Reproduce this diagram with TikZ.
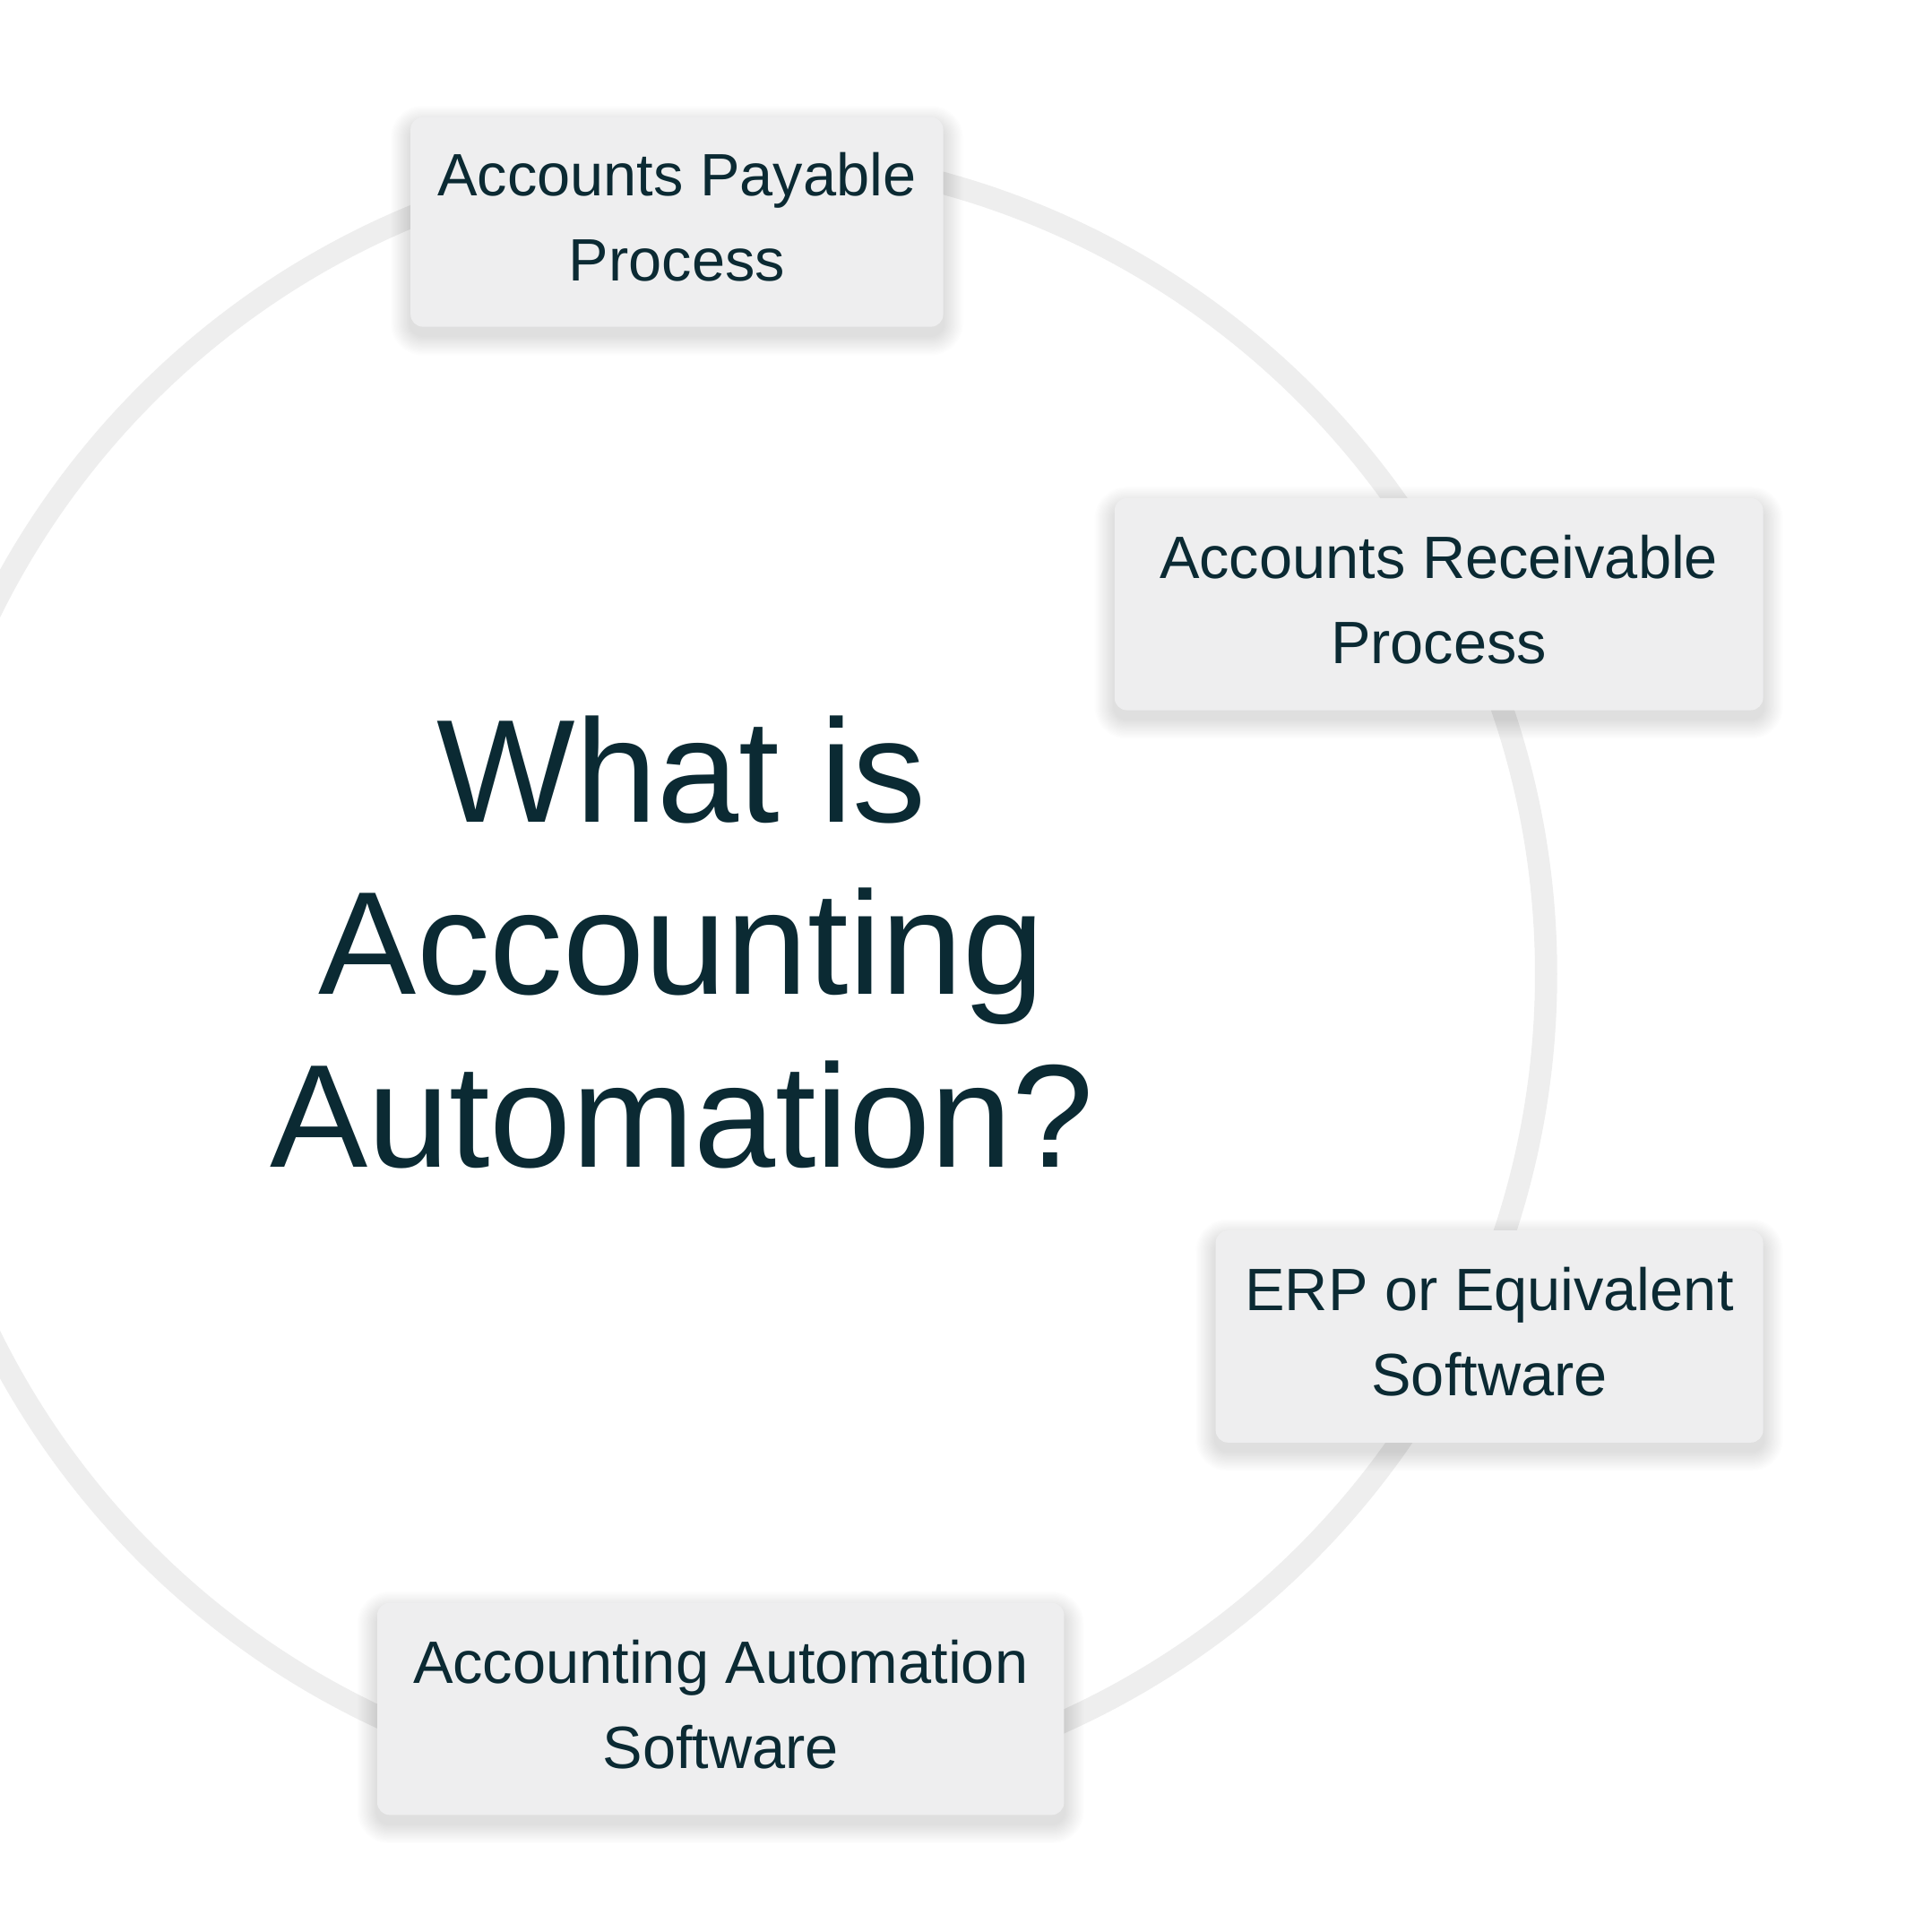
\documentclass[tikz,border=0pt]{standalone}
\usepackage{fontspec}
\setmainfont{Liberation Sans}
\usetikzlibrary{calc}
\definecolor{ink}{HTML}{0B2A33}
\definecolor{boxfill}{HTML}{EEEEEF}
\definecolor{ring}{HTML}{EEEEEE}
\tikzset{
  ringline/.style={draw=ring, line width=18pt},
  card/.style={rectangle, rounded corners=10pt, fill=boxfill, text=ink,
    align=center, inner sep=0pt, text depth=8pt,
    font=\fontsize{48.5}{69}\selectfont},
  shadowlayer/.style={fill=black, opacity=0.009},
  title/.style={text=ink, align=center, inner sep=0pt,
    font=\fontsize{119}{140}\selectfont}
}
\newcommand{\cardshadow}[1]{%
  \foreach \i in {1,...,16}{%
    \fill[shadowlayer, rounded corners={10pt+\i pt}]
      ($(#1.south west)+(-\i,\i+7)$) rectangle ($(#1.north east)+(\i,-\i+7)$);
  }}
\begin{document}
\begin{tikzpicture}[x=1pt,y=-1pt]
\useasboundingbox (0,0) rectangle (1567,1567);
\fill[white] (0,0) rectangle (1567,1567);
\begin{scope}
\clip (0,0) rectangle (1567,1567);
\draw[ringline] (589,790) circle[radius=665];
\end{scope}
\node[title] (t) at (553,764) {What is\\Accounting\\Automation?};
% shadows first, using invisible placeholders
\path node[card, fill=none, text opacity=0, minimum width=432pt, minimum height=170pt] (apS) at (549,180) {};
\path node[card, fill=none, text opacity=0, minimum width=526pt, minimum height=172pt] (arS) at (1167,490) {};
\path node[card, fill=none, text opacity=0, minimum width=444pt, minimum height=172pt] (erpS) at (1208,1084) {};
\path node[card, fill=none, text opacity=0, minimum width=557pt, minimum height=172pt] (aasS) at (584.5,1386) {};
\cardshadow{apS}
\cardshadow{arS}
\cardshadow{erpS}
\cardshadow{aasS}
\node[card, minimum width=432pt, minimum height=170pt] (ap) at (549,180) {Accounts Payable\\Process};
\node[card, minimum width=526pt, minimum height=172pt] (ar) at (1167,490) {Accounts Receivable\\Process};
\node[card, minimum width=444pt, minimum height=172pt] (erp) at (1208,1084) {ERP or Equivalent\\Software};
\node[card, minimum width=557pt, minimum height=172pt] (aas) at (584.5,1386) {Accounting Automation\\Software};
\end{tikzpicture}
\end{document}
